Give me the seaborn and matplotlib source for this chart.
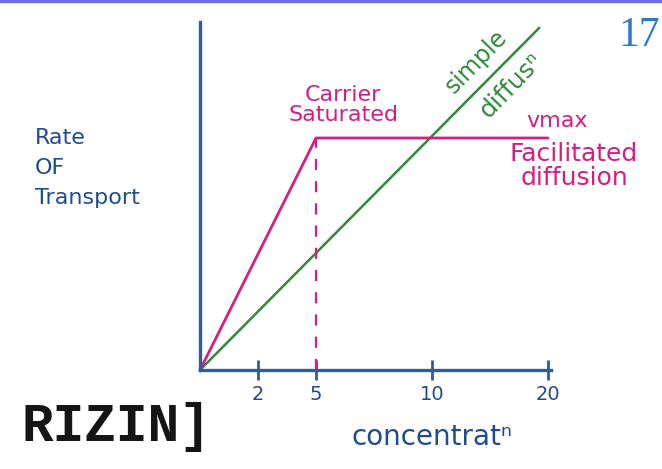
import matplotlib
matplotlib.use("Agg")
import matplotlib.pyplot as plt
import seaborn as sns
import pandas as pd

# Hand-drawn concentration axis: tick positions along the axis and their labels
tick_pos = [1, 2, 4, 6]
tick_labels = ["2", "5", "10", "20"]

# Facilitated diffusion: rises to Vmax at concentration 5, then flat
facil_pos = [0, 2, 6]
facil_rate = [0, 4, 4]
vmax = 4

# Simple diffusion: straight proportional line
simple_pos = [0, 5.85]
simple_rate = [0, 5.9]

BLUE = "#2c5d9c"
TXT_BLUE = "#1f4c8e"
MAGENTA = "#d81c84"
GREEN = "#2f8a3a"

sns.set_theme(style="white")
plt.rcParams["font.family"] = ["DejaVu Sans"]

W, H = 662, 469
fig = plt.figure(figsize=(W / 100, H / 100), dpi=100)
fig.patch.set_facecolor("white")

# axes placed so that one unit = 58 px, origin at (200, 370) px
unit = 58
x0, y0 = 200, 370
xmax, ymax = 6.05, 6.0
ax = fig.add_axes([x0 / W, (H - y0) / H, xmax * unit / W, ymax * unit / H])
ax.set_xlim(0, xmax)
ax.set_ylim(0, ymax)
ax.patch.set_alpha(0)

facil = pd.DataFrame({"pos": facil_pos, "rate": facil_rate})
simple = pd.DataFrame({"pos": simple_pos, "rate": simple_rate})

sns.lineplot(data=simple, x="pos", y="rate", color=GREEN, lw=1.8, ax=ax,
             sort=False, clip_on=False)
sns.lineplot(data=facil, x="pos", y="rate", color=MAGENTA, lw=2.0, ax=ax,
             sort=False, clip_on=False)
ax.vlines(facil_pos[1], 0, vmax, colors=MAGENTA, lw=1.6, linestyles=(0, (5, 5)))

for s in ["top", "right"]:
    ax.spines[s].set_visible(False)
for s in ["left", "bottom"]:
    ax.spines[s].set_color(BLUE)
    ax.spines[s].set_linewidth(2.4)

ax.set_xticks(tick_pos)
ax.set_xticklabels(tick_labels)
ax.set_yticks([])
ax.tick_params(axis="x", bottom=True, direction="inout", length=14, width=2,
               color=BLUE, labelcolor=TXT_BLUE, labelsize=14, pad=4)
ax.set_xlabel("")
ax.set_ylabel("")

# annotations
fig.text(35 / W, 1 - 168 / H, "Rate\nOF\nTransport", color=TXT_BLUE, fontsize=16,
         ha="left", va="center", linespacing=1.6)
fig.text(343 / W, 1 - 105 / H, "Carrier\nSaturated", color=MAGENTA, fontsize=16,
         ha="center", va="center", linespacing=1.0)
fig.text(557 / W, 1 - 121 / H, "vmax", color=MAGENTA, fontsize=16,
         ha="center", va="center")
fig.text(574 / W, 1 - 166 / H, "Facilitated\ndiffusion", color=MAGENTA, fontsize=18,
         ha="center", va="center", linespacing=1.0)
fig.text(476 / W, 1 - 62 / H, "simple", color=GREEN, fontsize=17,
         ha="center", va="center", rotation=46, rotation_mode="anchor")
fig.text(511 / W, 1 - 85 / H, "diffusⁿ", color=GREEN, fontsize=18,
         ha="center", va="center", rotation=46, rotation_mode="anchor")
fig.text(432 / W, 1 - 437 / H, "concentratⁿ", color=TXT_BLUE, fontsize=20,
         ha="center", va="center")
fig.text(618 / W, 1 - 36 / H, "17", color="#2a78d4", fontsize=30,
         family=["Liberation Serif", "DejaVu Serif"], ha="left", va="center")
fig.text(211 / W, 1 - 427 / H, "RIZIN]", color="#151515", fontsize=38,
         family=["Liberation Mono", "DejaVu Sans Mono"], weight="bold",
         ha="right", va="center")

# thin border at the top edge
fig.add_artist(plt.Line2D([0, 1], [1 - 1 / H, 1 - 1 / H], color="#6b6fe0",
                          lw=2.5, transform=fig.transFigure))

fig.savefig("out.png", dpi=100, facecolor="white")
